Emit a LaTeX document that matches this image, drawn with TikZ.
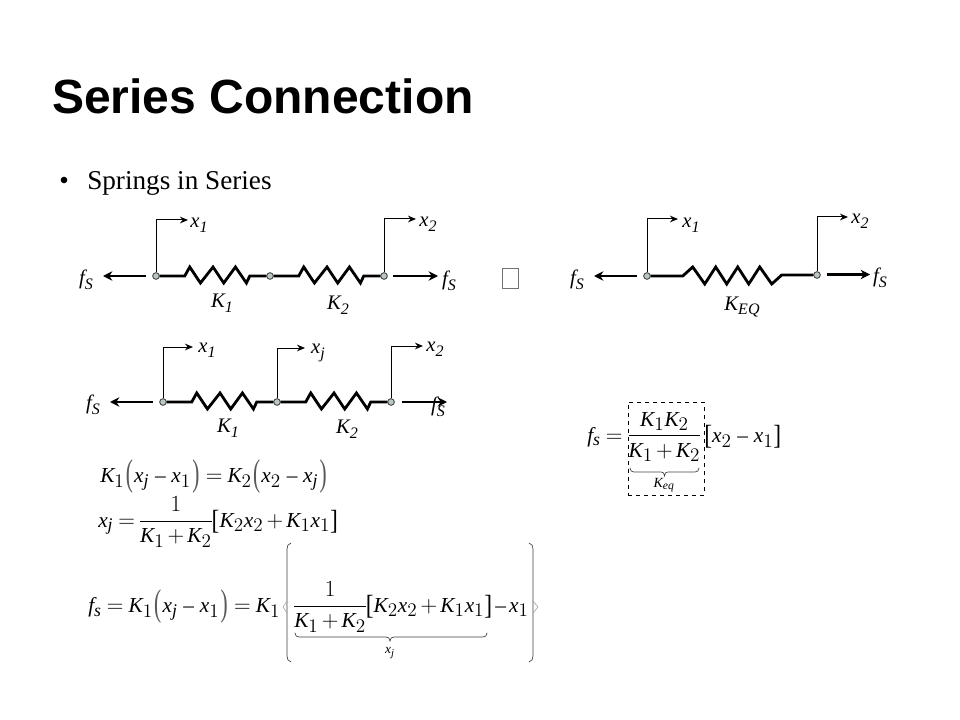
\documentclass[tikz,border=0pt]{standalone}
\usepackage{fontspec}
\setmainfont{Liberation Serif}
\newfontfamily\titlefont{Liberation Sans}
\usepackage{amsmath,graphicx,xcolor}
\usepackage[italic]{mathastext}
\usetikzlibrary{arrows.meta}
\newcommand{\lbl}[2]{{\itshape #1\raisebox{-0.22em}{\fontsize{12}{12}\selectfont #2}}}
\newcommand{\zigA}{-- ++(25,0) -- ++(5,-9) -- ++(10.7,16) -- ++(12.6,-16) -- ++(10.7,16) -- ++(11.7,-16) -- ++(11,16) -- ++(3.3,-7)}
\newcommand{\tightmath}{\thickmuskip=4mu\medmuskip=2.5mu\thinmuskip=1mu\nulldelimiterspace=0pt}
\newcommand{\vcb}[1]{\vcenter{\hbox{#1}}}
\newcommand{\pL}{\mathopen{\,\vcb{\textcolor{black!65}{\scalebox{1}[1.75]{\upshape (}}}\,}}
\newcommand{\pR}{\mathclose{\,\vcb{\textcolor{black!65}{\scalebox{1}[1.75]{\upshape )}}}\,}}
\newcommand{\bL}{\mathopen{\vcb{\scalebox{1.1}[1.3]{\upshape [}}}}
\newcommand{\bR}{\mathclose{\vcb{\scalebox{1.1}[1.3]{\upshape ]}}}}
\newcommand{\wm}{\mskip2mu-\mskip2mu}
\tikzset{
 pin/.style={circle,draw=black!80,fill=teal!20!gray!45,line width=0.6pt,inner sep=0pt,minimum size=5pt},
 springline/.style={line width=2.1pt,line join=miter},
 force/.style={line width=2.1pt,-{Stealth[length=7pt,width=7pt]}},
 disp/.style={line width=0.75pt,-{Stealth[length=6pt,width=5pt]}},
 lab/.style={inner sep=0pt,font=\fontsize{15.5}{16}\selectfont},
 eq/.style={inner sep=0pt,font=\fontsize{16}{19}\selectfont\tightmath},
 thinbrace/.style={line width=0.5pt,black!75,line cap=round},
}
\begin{document}
\begin{tikzpicture}[x=0.75pt,y=-0.75pt]
\useasboundingbox (0,0) rectangle (960,720);
% Title and bullet
\node[anchor=base west,inner sep=0pt,font=\titlefont\bfseries\fontsize{36}{40}\selectfont] (title) at (52,114) {Series Connection};
\node[anchor=base west,inner sep=0pt,font=\fontsize{20.4}{24}\selectfont] (bullet) at (59,190) {•};
\node[anchor=base west,inner sep=0pt,font=\fontsize{20.4}{24}\selectfont] (head) at (87,190) {Springs in Series};

% Row 1
\node[pin] (a1) at (156,276) {};
\node[pin] (a2) at (270,276) {};
\node[pin] (a3) at (384,276) {};
\draw[springline] (a1.east) \zigA -- (a2.west);
\draw[springline] (a2.east) \zigA -- (a3.west);
\coordinate (af1s) at (146,276); \coordinate (af1e) at (103,276);
\coordinate (af2s) at (393,276); \coordinate (af2e) at (438,276);
\draw[force] (af1s) -- (af1e);
\draw[force] (af2s) -- (af2e);
\coordinate (ax1) at (188,220); \coordinate (ax2) at (416,219);
\draw[disp] (a1.north) |- (ax1);
\draw[disp] (a3.north) |- (ax2);
\node[lab] (alx1) at (199,225) {\lbl{x}{1}};
\node[lab] (alx2) at (428,224) {\lbl{x}{2}};
\node[lab] (alf1) at (86,280) {\lbl{f}{S}};
\node[lab] (alf2) at (449,281) {\lbl{f}{S}};
\node[lab] (alk1) at (222,303) {\lbl{K}{1}};
\node[lab] (alk2) at (338,305) {\lbl{K}{2}};

% Row 2
\node[pin] (b1) at (163,402) {};
\node[pin] (b2) at (277,402) {};
\node[pin] (b3) at (391,402) {};
\draw[springline] (b1.east) \zigA -- (b2.west);
\draw[springline] (b2.east) \zigA -- (b3.west);
\coordinate (bf1s) at (153,402); \coordinate (bf1e) at (110,402);
\coordinate (bf2s) at (402,402); \coordinate (bf2e) at (447,402);
\draw[force] (bf1s) -- (bf1e);
\draw[force] (bf2s) -- (bf2e);
\coordinate (bx1) at (193,347); \coordinate (bx2) at (305,348); \coordinate (bx3) at (423,346);
\draw[disp] (b1.north) |- (bx1);
\draw[disp] (b2.north) |- (bx2);
\draw[disp] (b3.north) |- (bx3);
\node[lab] (blx1) at (207,350) {\lbl{x}{1}};
\node[lab] (blxj) at (318,353) {\lbl{x}{j}};
\node[lab] (blx2) at (435,349) {\lbl{x}{2}};
\node[lab] (blf1) at (93,405) {\lbl{f}{S}};
\node[lab] (blf2) at (438,407) {\lbl{f}{S}};
\node[lab] (blk1) at (228,428) {\lbl{K}{1}};
\node[lab] (blk2) at (347,429) {\lbl{K}{2}};

% Missing-glyph box
\node[draw=black!55,line width=0.5pt,inner sep=0pt,minimum width=12pt,minimum height=15pt] (box) at (510,278) {};

% Right equivalent spring
\node[pin] (c1) at (647,276) {};
\node[pin] (c2) at (817,275) {};
\draw[springline] (c1.east) -- ++(32,0) -- ++(10,-9) -- ++(12,17) -- ++(11,-17) -- ++(11,17) -- ++(11,-17) -- ++(11,17) -- ++(11,-17) -- ++(12,17) -- ++(10,-9) -- (c2.west);
\coordinate (cf1s) at (637,276); \coordinate (cf1e) at (594,276);
\coordinate (cf2s) at (827,274.5); \coordinate (cf2e) at (870,274.5);
\draw[force] (cf1s) -- (cf1e);
\draw[force] (cf2s) -- (cf2e);
\coordinate (cx1) at (678,219); \coordinate (cx2) at (848,217);
\draw[disp] (c1.north) |- (cx1);
\draw[disp] (c2.north) |- (cx2);
\node[lab] (clx1) at (691,225) {\lbl{x}{1}};
\node[lab] (clx2) at (860,221) {\lbl{x}{2}};
\node[lab] (clf1) at (577,280) {\lbl{f}{S}};
\node[lab] (clf2) at (880,278) {\lbl{f}{S}};
\node[lab] (clk) at (742,307) {\lbl{K}{EQ}};

% Equations left
\node[eq,anchor=west] (e1) at (100,477) {$K_1\pL x_j\wm x_1\pR=K_2\pL x_2\wm x_j\pR$};
\node[eq,anchor=west] (e2) at (98,522) {$x_j=\dfrac{1}{K_1+K_2}\bL K_2x_2+K_1x_1\bR$};
\node[eq,anchor=west] (e3a) at (88,607) {$f_s=K_1\pL x_j\wm x_1\pR=K_1$};
\node[eq,anchor=west] (e3b) at (294,607) {$\dfrac{1}{K_1+K_2}\bL K_2x_2+K_1x_1\bR-x_1$};
% big braces
\draw[thinbrace] (291,543) .. controls (288,544) and (287,546) .. (287,549) -- (287,656) .. controls (287,659) and (288,661) .. (291,662);
\draw[thinbrace] (529,543) .. controls (532,544) and (533,546) .. (533,549) -- (533,656) .. controls (533,659) and (532,661) .. (529,662);
\draw[thinbrace,black!35] (287,601) -- (283,607) -- (287,613);
\draw[thinbrace,black!35] (533,601) -- (538,607) -- (533,613);
% under brace x_j
\draw[thinbrace] (295,633) .. controls (295,636) and (297,637) .. (299,637) -- (386,637) .. controls (388,637) and (390,638) .. (390,641) .. controls (390,638) and (392,637) .. (394,637) -- (483,637) .. controls (485,637) and (487,636) .. (487,633);
\node[inner sep=0pt,font=\fontsize{10}{10}\selectfont] (xjl) at (390,653) {$x_j$};

% Equation right
\node[eq,anchor=west] (fs) at (587,437) {$f_s=$};
\node[eq] (frac) at (664.5,437) {$\dfrac{K_1K_2}{K_1+K_2}$};
\node[eq,anchor=west] (brk) at (704,437) {$\bL x_2\wm x_1\bR$};
\node[draw,dashed,line width=0.7pt,inner sep=0pt,minimum width=57pt,minimum height=69.8pt] (keqbox) at (666,448.5) {};
\draw[thinbrace] (630,468) .. controls (630,471) and (632,472) .. (634,472) -- (661,472) .. controls (663,472) and (664.5,473) .. (664.5,476) .. controls (664.5,473) and (666,472) .. (668,472) -- (695,472) .. controls (697,472) and (699,471) .. (699,468);
\node[inner sep=0pt,font=\fontsize{10.5}{11}\selectfont] (keql) at (664,485) {$K_{eq}$};
\end{tikzpicture}
\end{document}
